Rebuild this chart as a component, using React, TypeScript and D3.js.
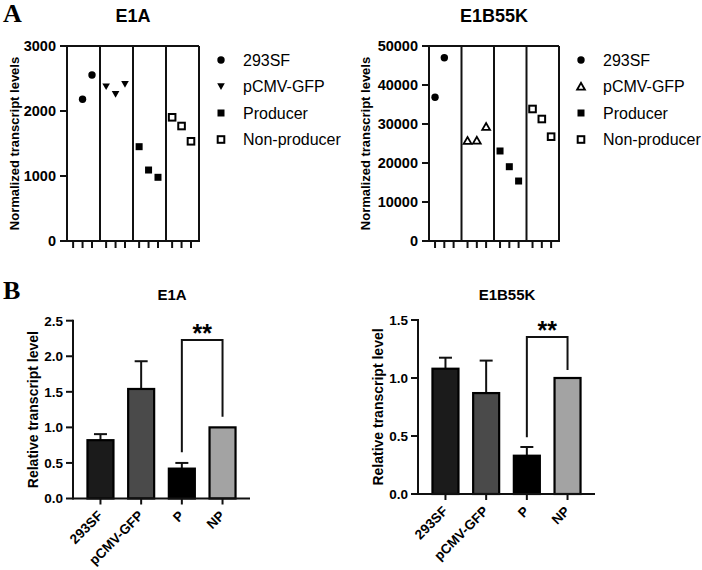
import React from 'react';
import * as d3 from 'd3';

const FONT = '"Liberation Sans", Arial, Helvetica, sans-serif';
const SERIF = '"Liberation Serif", "Times New Roman", serif';
const INK = '#111';

// ---- Panel A: normalized transcript levels (replicates per cell line) ----
const groups = ['293SF', 'pCMV-GFP', 'Producer', 'Non-producer'];

const e1a293 = [null, 2180, 2554];
const e1aGfp = [2374, 2257, 2411];
const e1aProd = [1451, 1092, 980];
const e1aNonProd = [1903, 1769, 1534];
const e1aTicks = [0, 1000, 2000, 3000];

const e1b293 = [36850, 47000, null];
const e1bGfp = [25720, 25800, 29310];
const e1bProd = [23080, 19050, 15380];
const e1bNonProd = [33850, 31280, 26750];
const e1bTicks = [0, 10000, 20000, 30000, 40000, 50000];

// ---- Panel B: relative transcript level (mean + SD) ----
const barCats = ['293SF', 'pCMV-GFP', 'P', 'NP'];
const barFills = ['#1b1b1b', '#4a4a4a', '#000000', '#a3a3a3'];

const e1aRelMean = [0.82, 1.54, 0.42, 1.0];
const e1aRelErr = [0.085, 0.39, 0.08, 0];
const e1aRelTicks = [0, 0.5, 1.0, 1.5, 2.0, 2.5];
const e1aSig = { from: 'P', to: 'NP', top: 2.23, fromEnd: 0.65, toEnd: 1.15, label: '**' };

const e1bRelMean = [1.08, 0.87, 0.33, 1.0];
const e1bRelErr = [0.095, 0.28, 0.075, 0];
const e1bRelTicks = [0, 0.5, 1.0, 1.5];
const e1bSig = { from: 'P', to: 'NP', top: 1.353, fromEnd: 0.49, toEnd: 1.07, label: '**' };

type Shape = 'circle' | 'triDown' | 'triUpOpen' | 'square' | 'squareOpen';

function Marker({ shape, x, y }: { shape: Shape; x: number; y: number }) {
  switch (shape) {
    case 'circle':
      return <circle cx={x} cy={y} r={3.7} fill="#000" />;
    case 'triDown':
      return <path d={`M${x - 3.8},${y - 3.2}L${x + 3.8},${y - 3.2}L${x},${y + 3.4}Z`} fill="#000" />;
    case 'triUpOpen':
      return (
        <path
          d={`M${x - 3.9},${y + 3.2}L${x + 3.9},${y + 3.2}L${x},${y - 3.6}Z`}
          fill="#fff"
          stroke="#000"
          strokeWidth={1.8}
        />
      );
    case 'square':
      return <rect x={x - 3.5} y={y - 3.5} width={7} height={7} fill="#000" />;
    case 'squareOpen':
      return <rect x={x - 3.3} y={y - 3.3} width={6.6} height={6.6} fill="#fff" stroke="#000" strokeWidth={2} />;
  }
  return null;
}

const SLOTS = 3.5;

function ScatterPanel(props: {
  title: string;
  left: number;
  right: number;
  top: number;
  bottom: number;
  yMax: number;
  yTicks: number[];
  series: (number | null)[][];
  shapes: Shape[];
  axisTitleX: number;
  legendX: number;
}) {
  const { title, left, right, top, bottom, yMax, yTicks, series, shapes, axisTitleX, legendX } = props;
  const x = d3.scaleLinear().domain([0, SLOTS * groups.length]).range([left, right]);
  const y = d3.scaleLinear().domain([0, yMax]).range([bottom, top]);
  const slot = (g: number, j: number) => x(g * SLOTS + j + 0.65);
  const legendRow = d3.scaleLinear().domain([0, 1]).range([60, 86.5]);

  return (
    <g>
      <text x={(left + right) / 2} y={22} textAnchor="middle" fontFamily={FONT} fontWeight="bold" fontSize={18}>
        {title}
      </text>
      <text
        transform={`translate(${axisTitleX},${(top + bottom) / 2}) rotate(-90)`}
        textAnchor="middle"
        dy="0.35em"
        fontFamily={FONT}
        fontWeight="bold"
        fontSize={13}
      >
        Normalized transcript levels
      </text>

      {/* frame and group dividers */}
      <line x1={left} x2={right} y1={top} y2={top} stroke={INK} strokeWidth={2} />
      <line x1={left - 1} x2={right + 1} y1={bottom} y2={bottom} stroke={INK} strokeWidth={2} />
      <line x1={left} x2={left} y1={top - 1} y2={bottom + 1} stroke={INK} strokeWidth={2} />
      {groups.map((_, g) => (
        <line
          key={g}
          x1={x((g + 1) * SLOTS)}
          x2={x((g + 1) * SLOTS)}
          y1={top}
          y2={bottom}
          stroke={INK}
          strokeWidth={2}
        />
      ))}

      {/* y ticks */}
      {yTicks.map((t) => (
        <g key={t}>
          <line x1={left - 7} x2={left} y1={y(t)} y2={y(t)} stroke={INK} strokeWidth={2} />
          <text x={left - 11} y={y(t)} dy="0.36em" textAnchor="end" fontFamily={FONT} fontWeight="bold" fontSize={14.5}>
            {t}
          </text>
        </g>
      ))}

      {/* x ticks: one per replicate slot */}
      {groups.map((_, g) =>
        [0, 1, 2].map((j) => (
          <line
            key={`${g}-${j}`}
            x1={slot(g, j)}
            x2={slot(g, j)}
            y1={bottom}
            y2={bottom + 7}
            stroke={INK}
            strokeWidth={2}
          />
        ))
      )}

      {/* replicate points */}
      {series.map((vals, g) =>
        vals.map((v, j) =>
          v == null ? null : <Marker key={`${g}-${j}`} shape={shapes[g]} x={slot(g, j)} y={y(v)} />
        )
      )}

      {/* legend */}
      {groups.map((name, g) => (
        <g key={name}>
          <Marker shape={shapes[g]} x={legendX} y={legendRow(g)} />
          <text x={legendX + 22} y={legendRow(g)} dy="0.36em" fontFamily={FONT} fontSize={16}>
            {name}
          </text>
        </g>
      ))}
    </g>
  );
}

function BarPanel(props: {
  title: string;
  titleX: number;
  left: number;
  right: number;
  top: number;
  bottom: number;
  yMax: number;
  yTicks: number[];
  means: number[];
  errs: number[];
  sig: { from: string; to: string; top: number; fromEnd: number; toEnd: number; label: string };
}) {
  const { title, titleX, left, right, top, bottom, yMax, yTicks, means, errs, sig } = props;
  const x = d3.scalePoint<string>().domain(barCats).range([left, right]).padding(0.675);
  const y = d3.scaleLinear().domain([0, yMax]).range([bottom, top]);
  const barW = 26;
  const capW = 13;
  const fmt = d3.format('.1f');
  const sx1 = x(sig.from)!;
  const sx2 = x(sig.to)!;
  const sTop = y(sig.top);

  return (
    <g>
      <text x={titleX} y={300} textAnchor="middle" fontFamily={FONT} fontWeight="bold" fontSize={15}>
        {title}
      </text>
      <text
        transform={`translate(${left - 40},${(top + bottom) / 2}) rotate(-90)`}
        textAnchor="middle"
        dy="0.35em"
        fontFamily={FONT}
        fontWeight="bold"
        fontSize={14}
      >
        Relative transcript level
      </text>

      {/* bars with upward error bars */}
      {barCats.map((c, i) => {
        const cx = x(c)!;
        const yt = y(means[i]);
        return (
          <g key={c}>
            {errs[i] > 0 && (
              <g stroke={INK} strokeWidth={2}>
                <line x1={cx} x2={cx} y1={yt} y2={y(means[i] + errs[i])} />
                <line x1={cx - capW / 2} x2={cx + capW / 2} y1={y(means[i] + errs[i])} y2={y(means[i] + errs[i])} />
              </g>
            )}
            <rect x={cx - barW / 2} y={yt} width={barW} height={bottom - yt} fill={barFills[i]} stroke="#000" strokeWidth={2.2} />
          </g>
        );
      })}

      {/* axes */}
      <line x1={left} x2={left} y1={top - 1} y2={bottom + 1} stroke={INK} strokeWidth={2} />
      <line x1={left} x2={right} y1={bottom} y2={bottom} stroke={INK} strokeWidth={2} />
      {yTicks.map((t) => (
        <g key={t}>
          <line x1={left - 7} x2={left} y1={y(t)} y2={y(t)} stroke={INK} strokeWidth={2} />
          <text x={left - 10} y={y(t)} dy="0.36em" textAnchor="end" fontFamily={FONT} fontWeight="bold" fontSize={13.5}>
            {fmt(t)}
          </text>
        </g>
      ))}
      {barCats.map((c) => (
        <g key={c}>
          <line x1={x(c)} x2={x(c)} y1={bottom} y2={bottom + 6} stroke={INK} strokeWidth={2} />
          <text
            transform={`translate(${x(c)! + 3},${bottom + 18}) rotate(-45)`}
            textAnchor="end"
            fontFamily={FONT}
            fontWeight="bold"
            fontSize={13.5}
          >
            {c}
          </text>
        </g>
      ))}

      {/* significance bracket */}
      <path
        d={`M${sx1},${y(sig.fromEnd)}V${sTop}H${sx2}V${y(sig.toEnd)}`}
        fill="none"
        stroke={INK}
        strokeWidth={2}
      />
      <text x={(sx1 + sx2) / 2} y={sTop + 2} textAnchor="middle" fontFamily={FONT} fontWeight="bold" fontSize={25}>
        {sig.label}
      </text>
    </g>
  );
}

export default function App() {
  return (
    <svg
      width={702}
      height={570}
      viewBox="0 0 702 570"
      style={{ position: 'absolute', left: 0, top: 0, background: '#fff' }}
    >
      <rect width={702} height={570} fill="#fff" />
      <text x={3} y={22} fontFamily={SERIF} fontWeight="bold" fontSize={26}>
        A
      </text>
      <text x={3} y={299} fontFamily={SERIF} fontWeight="bold" fontSize={26}>
        B
      </text>

      <ScatterPanel
        title="E1A"
        left={67}
        right={199}
        top={46}
        bottom={241}
        yMax={3000}
        yTicks={e1aTicks}
        series={[e1a293, e1aGfp, e1aProd, e1aNonProd]}
        shapes={['circle', 'triDown', 'square', 'squareOpen']}
        axisTitleX={14}
        legendX={221}
      />
      <ScatterPanel
        title="E1B55K"
        left={429}
        right={559}
        top={46}
        bottom={241}
        yMax={50000}
        yTicks={e1bTicks}
        series={[e1b293, e1bGfp, e1bProd, e1bNonProd]}
        shapes={['circle', 'triUpOpen', 'square', 'squareOpen']}
        axisTitleX={365}
        legendX={581}
      />

      <BarPanel
        title="E1A"
        titleX={172}
        left={73}
        right={250}
        top={320.7}
        bottom={498.5}
        yMax={2.5}
        yTicks={e1aRelTicks}
        means={e1aRelMean}
        errs={e1aRelErr}
        sig={e1aSig}
      />
      <BarPanel
        title="E1B55K"
        titleX={507}
        left={418}
        right={595}
        top={320}
        bottom={494}
        yMax={1.5}
        yTicks={e1bRelTicks}
        means={e1bRelMean}
        errs={e1bRelErr}
        sig={e1bSig}
      />
    </svg>
  );
}
